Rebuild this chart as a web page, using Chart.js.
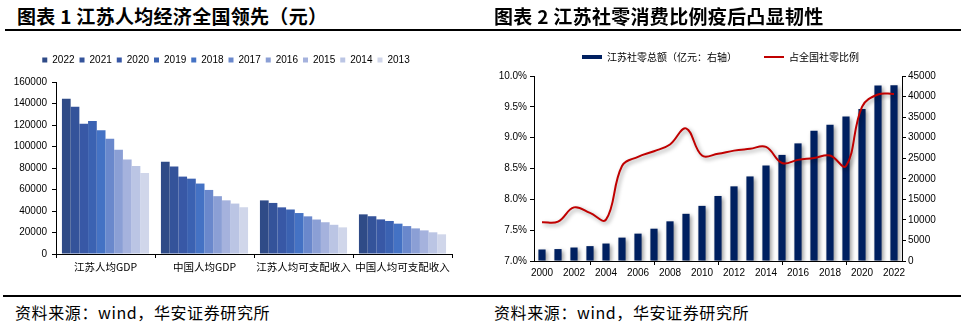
<!DOCTYPE html>
<html>
<head>
<meta charset="utf-8">
<script src="https://cdn.jsdelivr.net/npm/chart.js@4.4.1/dist/chart.umd.min.js"></script>
<style>
body { margin: 0; width: 961px; height: 325px; background: #fff; position: relative; overflow: hidden; font-family: "Noto Sans CJK SC", sans-serif; color: #000; }
.title { position: absolute; top: 4px; font-size: 19px; font-weight: bold; line-height: 24px; letter-spacing: 0.3px; white-space: nowrap; z-index: 2; }
.rule { position: absolute; height: 2px; background: #000; z-index: 2; }
.source { position: absolute; top: 302px; font-size: 16px; line-height: 20px; letter-spacing: 0.6px; white-space: nowrap; }
canvas { position: absolute; }
</style>
</head>
<body>
<div class="title" style="left:17px">图表 1 江苏人均经济全国领先（元）</div>
<div class="title" style="left:494px">图表 2 江苏社零消费比例疫后凸显韧性</div>
<div class="rule" style="left:5px; top:29px; width:956px"></div>
<div class="rule" style="left:3px; top:295px; width:958px"></div>
<div class="source" style="left:15px">资料来源：wind，华安证券研究所</div>
<div class="source" style="left:494px">资料来源：wind，华安证券研究所</div>

<canvas id="perCapita" width="480" height="226" style="left:0; top:50px"></canvas>
<canvas id="retail" width="481" height="256" style="left:480px; top:25px"></canvas>

<script>
// chart 1: per capita figures, values listed 2022 -> 2013
const groups = ['江苏人均GDP', '中国人均GDP', '江苏人均可支配收入', '中国人均可支配收入'];
const years = ['2022', '2021', '2020', '2019', '2018', '2017', '2016', '2015', '2014', '2013'];
const jsGdp = [144390, 137040, 121230, 123610, 115170, 107150, 96890, 88000, 81870, 75350];
const cnGdp = [85700, 81370, 72000, 70080, 65530, 59590, 53780, 49920, 46910, 43500];
const jsIncome = [49860, 47500, 43390, 41400, 38100, 35020, 32070, 29540, 27170, 24780];
const cnIncome = [36880, 35130, 32190, 30730, 28230, 25970, 23820, 21970, 20170, 18310];
const yearColors = ['#2F4B87', '#34539A', '#3858A6', '#3B62B2', '#4472C4', '#6A88CC', '#8B9FD5', '#A5B2DD', '#BBC5E4', '#D0D6EA'];

// chart 2: Jiangsu retail sales
const retailYears = ['2000', '2001', '2002', '2003', '2004', '2005', '2006', '2007', '2008', '2009', '2010', '2011',
    '2012', '2013', '2014', '2015', '2016', '2017', '2018', '2019', '2020', '2021', '2022'];
const retailTotal = [2800, 2900, 3280, 3620, 4250, 5690, 6660, 7860, 9650, 11480, 13410, 15820,
    18160, 20570, 23230, 25810, 28610, 31670, 33120, 35120, 36980, 42690, 42750];
const retailShare = [7.63, 7.64, 7.87, 7.78, 7.67, 8.54, 8.69, 8.78, 8.89, 9.15, 8.71, 8.74,
    8.79, 8.82, 8.85, 8.59, 8.64, 8.67, 8.71, 8.54, 9.50, 9.70, 9.71];
const retailNames = ['江苏社零总额（亿元：右轴）', '占全国社零比例'];

Chart.defaults.font.family = '"Liberation Sans", Arial, sans-serif';
Chart.defaults.font.size = 10;
Chart.defaults.color = '#000';

const cjkFont = { family: '"Noto Sans CJK SC", sans-serif', size: 10 };

// force a fixed legend height so the plot area lands where it should
const legendHeight = (h) => ({
    id: 'legendHeight',
    beforeInit(chart) {
        const fit = chart.legend.fit;
        chart.legend.fit = function () {
            fit.call(this);
            this.height = h;
        };
    }
});

const shadow = {
    id: 'shadow',
    beforeDatasetDraw(chart) {
        const ctx = chart.ctx;
        ctx.save();
        ctx.shadowColor = 'rgba(0,0,0,0.4)';
        ctx.shadowBlur = 4;
        ctx.shadowOffsetX = 2;
        ctx.shadowOffsetY = 2;
    },
    afterDatasetDraw(chart) {
        chart.ctx.restore();
    }
};

const axisLine = { display: true, color: '#000', width: 1 };
const outerTicks = { drawOnChartArea: false, color: '#000', tickLength: 4 };

const groupSeries = [jsGdp, cnGdp, jsIncome, cnIncome];

new Chart(document.getElementById('perCapita'), {
    type: 'bar',
    data: {
        labels: groups,
        datasets: years.map((year, i) => ({
            label: year,
            data: groupSeries.map(s => s[i]),
            backgroundColor: yearColors[i],
            borderWidth: 0,
            barPercentage: 1,
            categoryPercentage: 0.88
        }))
    },
    options: {
        responsive: false,
        animation: false,
        layout: { padding: { left: 0, right: 28, top: 0, bottom: 0 } },
        plugins: {
            tooltip: { enabled: false },
            legend: {
                position: 'top',
                labels: { boxWidth: 5, boxHeight: 5, padding: 5, font: { size: 10 } }
            }
        },
        scales: {
            x: {
                grid: { ...outerTicks, offset: true },
                border: axisLine,
                ticks: { font: { ...cjkFont, size: 10.5 }, padding: 3, maxRotation: 0, autoSkip: false },
                afterFit(scale) { scale.height = 22; }
            },
            y: {
                min: 0,
                max: 160000,
                grid: outerTicks,
                border: axisLine,
                ticks: { stepSize: 20000, padding: 5, callback: v => String(v) },
                afterFit(scale) { scale.width = 56; }
            }
        }
    },
    plugins: [legendHeight(32)]
});

new Chart(document.getElementById('retail'), {
    data: {
        labels: retailYears,
        datasets: [
            {
                type: 'bar',
                label: retailNames[0],
                data: retailTotal,
                yAxisID: 'y1',
                backgroundColor: '#002060',
                barPercentage: 0.45,
                categoryPercentage: 1,
                order: 2
            },
            {
                type: 'line',
                label: retailNames[1],
                data: retailShare,
                yAxisID: 'y',
                borderColor: '#C00000',
                borderWidth: 2,
                tension: 0.4,
                pointRadius: 0,
                fill: false,
                order: 1
            }
        ]
    },
    options: {
        responsive: false,
        animation: false,
        layout: { padding: 0 },
        plugins: {
            tooltip: { enabled: false },
            legend: {
                position: 'top',
                labels: {
                    usePointStyle: true,
                    pointStyleWidth: 20,
                    padding: 27,
                    font: cjkFont,
                    generateLabels: () => [
                        { text: retailNames[0], pointStyle: 'line', strokeStyle: '#002060', fillStyle: '#002060', lineWidth: 4, fontColor: '#000', datasetIndex: 0 },
                        { text: retailNames[1], pointStyle: 'line', strokeStyle: '#C00000', fillStyle: '#C00000', lineWidth: 2, fontColor: '#000', datasetIndex: 1 }
                    ]
                }
            }
        },
        scales: {
            x: {
                grid: { ...outerTicks, offset: true },
                border: axisLine,
                ticks: { autoSkip: true, maxTicksLimit: 12, maxRotation: 0, padding: 2 },
                afterFit(scale) { scale.height = 20; }
            },
            y: {
                position: 'left',
                min: 7,
                max: 10,
                grid: outerTicks,
                border: axisLine,
                ticks: { stepSize: 0.5, padding: 3, callback: v => v.toFixed(1) + '%' },
                afterFit(scale) { scale.width = 54; }
            },
            y1: {
                position: 'right',
                min: 0,
                max: 45000,
                grid: outerTicks,
                border: axisLine,
                ticks: { stepSize: 5000, padding: 2, callback: v => String(v) },
                afterFit(scale) { scale.width = 59; }
            }
        }
    },
    plugins: [legendHeight(51), shadow]
});
</script>
</body>
</html>
